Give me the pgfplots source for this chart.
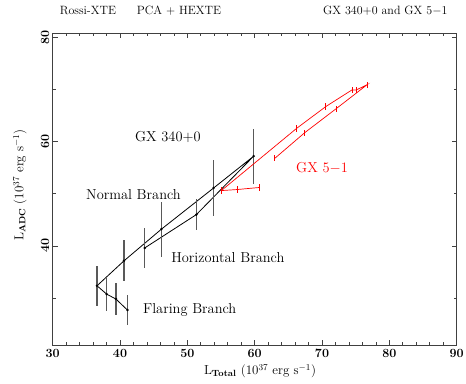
\documentclass[border=0pt]{standalone}
\usepackage{pgfplots}
\pgfplotsset{compat=1.18}
\definecolor{ebgray}{gray}{0.35}
\begin{document}
\begin{tikzpicture}[x=1pt,y=1pt]
\useasboundingbox (0,0) rectangle (466,383);
\begin{axis}[
  at={(52.7pt,38pt)}, anchor=south west,
  scale only axis, width=404pt, height=311.7pt,
  xmin=30, xmax=90, ymin=21, ymax=80.75,
  xtick={30,40,...,90}, minor x tick num=4,
  ytick={40,60,80}, minor ytick={30,50,70},
  tick align=inside, major tick length=5pt, minor tick length=3pt,
  axis line style={line width=0.9pt, black!75},
  every tick/.style={black!75, line width=0.7pt},
  /pgf/number format/assume math mode=true,
  xticklabel style={font=\fontsize{12.5}{13}\selectfont\bfseries, yshift=-0.5pt},
  yticklabel style={rotate=90, anchor=south, font=\fontsize{12.5}{13}\selectfont\bfseries},
  clip=false,
]
\addplot[black, line width=0.8pt, mark=*, mark size=0.8pt,
  error bars/.cd, y dir=both, y explicit, error mark=none,
  error bar style={line width=1.2pt, ebgray}]
coordinates {
(41.1,27.7) +- (0,2.8)
(39.4,29.8) +- (0,3.1)
(38.02,30.75) +- (0,3.3)
(36.58,32.35) +- (0,3.8)
(40.6,37.15) +- (0,3.9)
(46.14,43.2) +- (0,5.3)
(53.9,51.1) +- (0,5.4)
(59.85,57.2) +- (0,5.3)
(51.34,46.0) +- (0,3.0)
(43.66,39.6) +- (0,3.9)
};
\addplot[red, line width=0.7pt, mark=none,
  error bars/.cd, y dir=both, y explicit, error mark=none,
  error bar style={line width=0.9pt, red}]
coordinates {
(60.74,51.2) +- (0,0.6)
(57.37,50.8) +- (0,0.6)
(55.05,50.6) +- (0,0.6)
(66.2,62.5) +- (0,0.6)
(70.55,66.7) +- (0,0.6)
(74.45,69.9) +- (0,0.6)
(75.1,69.9) +- (0,0.6)
(76.7,70.9) +- (0,0.6)
(72.1,66.3) +- (0,0.6)
(67.43,61.7) +- (0,0.6)
(63.0,56.8) +- (0,0.6)
};
\node[font=\fontsize{14.4}{16}\selectfont] at (axis cs:47.1,60.9) {GX 340+0};
\node[font=\fontsize{14.4}{16}\selectfont] at (axis cs:42.0,49.9) {Normal Branch};
\node[font=\fontsize{14.4}{16}\selectfont, anchor=west] at (axis cs:47.1,37.8) {Horizontal Branch};
\node[font=\fontsize{14.4}{16}\selectfont, anchor=west] at (axis cs:42.9,27.8) {Flaring Branch};
\node[font=\fontsize{14.4}{16}\selectfont, text=red] at (axis cs:70.0,54.9) {GX 5$-$1};
\end{axis}
\node[font=\fontsize{12}{14}\selectfont] at (88,372) {Rossi-XTE};
\node[font=\fontsize{12}{14}\selectfont] at (179,372) {PCA + HEXTE};
\node[font=\fontsize{12}{14}\selectfont, anchor=east] at (451,372) {GX 340+0 and GX 5$-$1};
\node[font=\fontsize{13}{14}\selectfont] at (260,12) {L$_{\mathrm{\bf Total}}$ (10$^{37}$ erg s$^{-1}$)};
\node[font=\fontsize{13}{14}\selectfont, rotate=90] at (20,198) {L$_{\mathrm{\bf ADC}}$ (10$^{37}$ erg s$^{-1}$)};
\end{tikzpicture}
\end{document}
